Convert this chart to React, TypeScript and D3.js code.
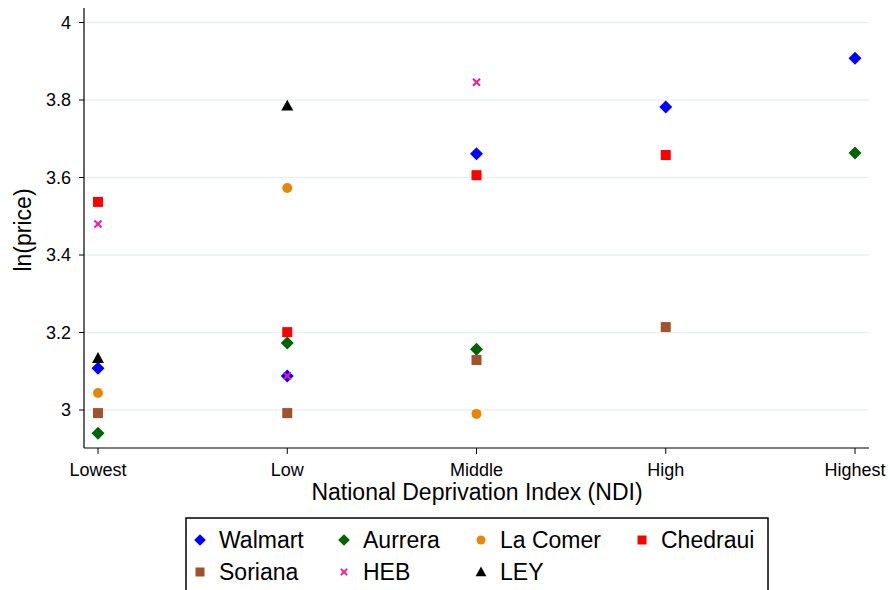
import React from "react";
import * as d3 from "d3";

const categories = ["Lowest", "Low", "Middle", "High", "Highest"];
const yTicks = [3, 3.2, 3.4, 3.6, 3.8, 4];

const stores = ["Walmart", "Aurrera", "La Comer", "Chedraui", "Soriana", "HEB", "LEY"];
// values per category (null = no observation)
const walmart = [3.108, 3.088, 3.661, 3.782, 3.908];
const aurrera = [2.94, 3.173, 3.157, null, 3.663];
const laComer = [3.044, 3.573, 2.99, null, null];
const chedraui = [3.537, 3.201, 3.606, 3.658, null];
const soriana = [2.992, 2.992, 3.129, 3.214, null];
const heb = [3.48, 3.088, 3.846, null, null];
const ley = [3.134, 3.785, null, null, null];

const seriesValues = [walmart, aurrera, laComer, chedraui, soriana, heb, ley];
const colors = ["#0000ff", "#006400", "#e8860a", "#ff0000", "#a0522d", "#ff1493", "#000000"];
const shapes = ["diamond", "diamond", "circle", "square", "square", "x", "triangle"];

const FONT = "'Liberation Sans', Arial, Helvetica, sans-serif";

const Marker = ({ shape, color, x, y, s = 1 }) => {
  if (shape === "diamond") {
    const r = 6.5 * s;
    return <path d={`M${x},${y - r}L${x + r},${y}L${x},${y + r}L${x - r},${y}Z`} fill={color} />;
  }
  if (shape === "circle") return <circle cx={x} cy={y} r={5 * s} fill={color} />;
  if (shape === "square") {
    const h = 5 * s;
    return <rect x={x - h} y={y - h} width={2 * h} height={2 * h} fill={color} />;
  }
  if (shape === "triangle") {
    const r = 6 * s;
    return <path d={`M${x},${y - r}L${x + r},${y + r * 0.8}L${x - r},${y + r * 0.8}Z`} fill={color} />;
  }
  const r = 3.5 * s;
  return (
    <path
      d={`M${x - r},${y - r}L${x + r},${y + r}M${x - r},${y + r}L${x + r},${y - r}`}
      stroke={color}
      strokeWidth={2}
      fill="none"
    />
  );
};

const App = () => {
  const width = 890;
  const height = 590;
  const left = 84;
  const right = 869;
  const top = 8;
  const bottom = 448;

  const x = d3.scalePoint().domain(categories).range([98, 855]);
  const y = d3.scaleLinear().domain([3, 4]).range([410, 22.5]);

  const legendCols = [200, 344, 481, 642];

  return (
    <svg width={width} height={height} style={{ position: "absolute", left: 0, top: 0 }} fontFamily={FONT}>
      <rect width={width} height={height} fill="#fff" />
      {yTicks.map((t) => (
        <g key={t}>
          <line x1={left} x2={right} y1={y(t)} y2={y(t)} stroke="#eaf1f3" strokeWidth={1.5} />
          <line x1={left - 5} x2={left} y1={y(t)} y2={y(t)} stroke="#000" />
          <text x={left - 13} y={y(t)} dy="0.35em" textAnchor="end" fontSize={18}>
            {t === 3 || t === 4 ? t : t.toFixed(1)}
          </text>
        </g>
      ))}
      <line x1={left} x2={left} y1={top} y2={bottom} stroke="#000" strokeWidth={1.2} />
      <line x1={left} x2={right} y1={bottom} y2={bottom} stroke="#000" strokeWidth={1.2} />
      {categories.map((c) => (
        <g key={c}>
          <line x1={x(c)} x2={x(c)} y1={bottom} y2={bottom + 6} stroke="#000" />
          <text x={x(c)} y={476} textAnchor="middle" fontSize={18}>
            {c}
          </text>
        </g>
      ))}
      <text x={477} y={500} textAnchor="middle" fontSize={23}>
        National Deprivation Index (NDI)
      </text>
      <text transform={`translate(31,230) rotate(-90)`} textAnchor="middle" fontSize={23}>
        ln(price)
      </text>
      {seriesValues.map((vals, si) =>
        vals.map((v, i) =>
          v == null ? null : (
            <Marker key={`${si}-${i}`} shape={shapes[si]} color={colors[si]} x={x(categories[i])} y={y(v)} />
          )
        )
      )}
      <rect x={186} y={518} width={582} height={80} fill="none" stroke="#000" strokeWidth={1.5} />
      {stores.map((s, i) => {
        const col = i % 4;
        const row = Math.floor(i / 4);
        const mx = legendCols[col];
        const my = 540 + row * 32;
        return (
          <g key={s}>
            <Marker shape={shapes[i]} color={colors[i]} x={mx} y={my} s={0.9} />
            <text x={mx + 19} y={my} dy="0.35em" fontSize={23}>
              {s}
            </text>
          </g>
        );
      })}
    </svg>
  );
};

export default App;
